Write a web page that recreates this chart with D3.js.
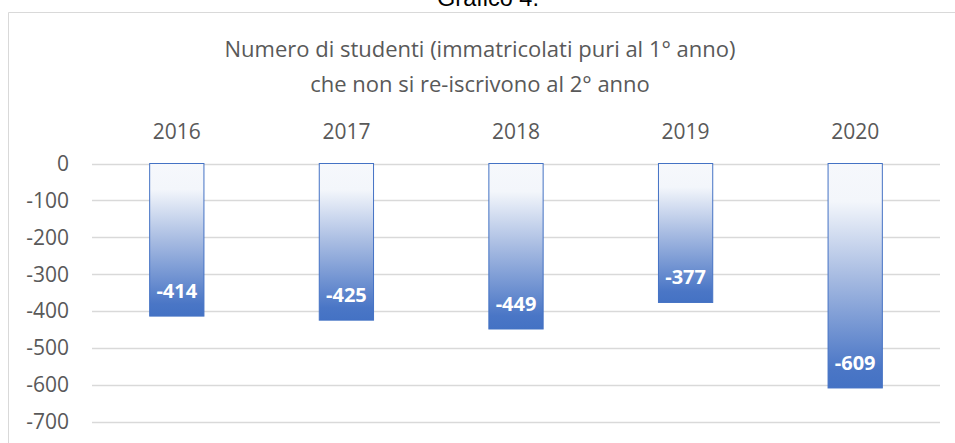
<!DOCTYPE html>
<html>
<head>
<meta charset="utf-8">
<script src="https://cdn.jsdelivr.net/npm/d3@7"></script>
<style>
  body { margin: 0; background: #fff; }
  svg { display: block; font-family: "Open Sans", Lato, sans-serif; }
</style>
</head>
<body>
<svg id="chart" width="955" height="443"></svg>
<script>
var years = ["2016", "2017", "2018", "2019", "2020"]
var dropouts = [-414, -425, -449, -377, -609]
var yTicks = [0, -100, -200, -300, -400, -500, -600, -700]
var titleLines = ["Numero di studenti (immatricolati puri al 1° anno)", "che non si re-iscrivono al 2° anno"]

var svg = d3.select("#chart")
var plotLeft = 92, plotRight = 940, plotTop = 163.5, plotBottom = 421.5

// page caption, cut by the top of the picture
svg.append("text")
   .attr("x", 488).attr("y", 5.5)
   .attr("text-anchor", "middle")
   .attr("font-family", "'Liberation Sans', Arial, sans-serif")
   .attr("font-size", 23.5)
   .attr("fill", "#000")
   .text("Grafico 4.")

// chart frame
svg.append("path")
   .attr("d", "M8.5,443 V12.5 H955")
   .attr("fill", "none")
   .attr("stroke", "#d9d9d9")
   .attr("stroke-width", 1)

var x = d3.scaleBand().domain(years).range([plotLeft, plotRight]).paddingInner(0.68).paddingOuter(0.34)
var y = d3.scaleLinear().domain([0, -700]).range([plotTop, plotBottom])

var grad = svg.append("defs").append("linearGradient")
   .attr("id", "barfill").attr("x1", 0).attr("y1", 0).attr("x2", 0).attr("y2", 1)
grad.append("stop").attr("offset", 0).attr("stop-color", "#f6f8fc")
grad.append("stop").attr("offset", 0.17).attr("stop-color", "#f3f6fb")
grad.append("stop").attr("offset", 0.5).attr("stop-color", "#a8bce2")
grad.append("stop").attr("offset", 0.92).attr("stop-color", "#4a76c6")
grad.append("stop").attr("offset", 1).attr("stop-color", "#4472c4")

// gridlines
svg.append("g")
   .selectAll("line")
   .data(yTicks)
   .enter()
   .append("line")
   .attr("x1", plotLeft).attr("x2", plotRight)
   .attr("y1", function(d) { return Math.round(y(d)) + 0.5 })
   .attr("y2", function(d) { return Math.round(y(d)) + 0.5 })
   .attr("stroke", "#d9d9d9")
   .attr("stroke-width", 1.3)

// y axis labels
svg.append("g")
   .selectAll("text")
   .data(yTicks)
   .enter()
   .append("text")
   .attr("x", 69)
   .attr("y", function(d) { return y(d) + 7.5 })
   .attr("text-anchor", "end")
   .attr("font-size", 21)
   .attr("fill", "#595959")
   .text(function(d) { return d })

// category labels above the bars
svg.append("g")
   .selectAll("text")
   .data(years)
   .enter()
   .append("text")
   .attr("x", function(d) { return x(d) + x.bandwidth() / 2 })
   .attr("y", 138.5)
   .attr("text-anchor", "middle")
   .attr("font-size", 21)
   .attr("fill", "#595959")
   .text(function(d) { return d })

// bars
svg.append("g")
   .selectAll("rect")
   .data(dropouts)
   .enter()
   .append("rect")
   .attr("x", function(d, i) { return x(years[i]) })
   .attr("y", y(0))
   .attr("width", x.bandwidth())
   .attr("height", function(d) { return y(d) - y(0) })
   .attr("fill", "url(#barfill)")
   .attr("stroke", "#4472c4")
   .attr("stroke-width", 1)

// value labels
svg.append("g")
   .selectAll("text")
   .data(dropouts)
   .enter()
   .append("text")
   .attr("x", function(d, i) { return x(years[i]) + x.bandwidth() / 2 })
   .attr("y", function(d) { return y(d) - 18 })
   .attr("text-anchor", "middle")
   .attr("font-size", 20)
   .attr("font-weight", "bold")
   .attr("fill", "#fff")
   .text(function(d) { return d })

// title
svg.append("g")
   .selectAll("text")
   .data(titleLines)
   .enter()
   .append("text")
   .attr("x", 480)
   .attr("y", function(d, i) { return 57 + i * 35 })
   .attr("text-anchor", "middle")
   .attr("font-size", 22)
   .attr("fill", "#595959")
   .text(function(d) { return d })
</script>
</body>
</html>
